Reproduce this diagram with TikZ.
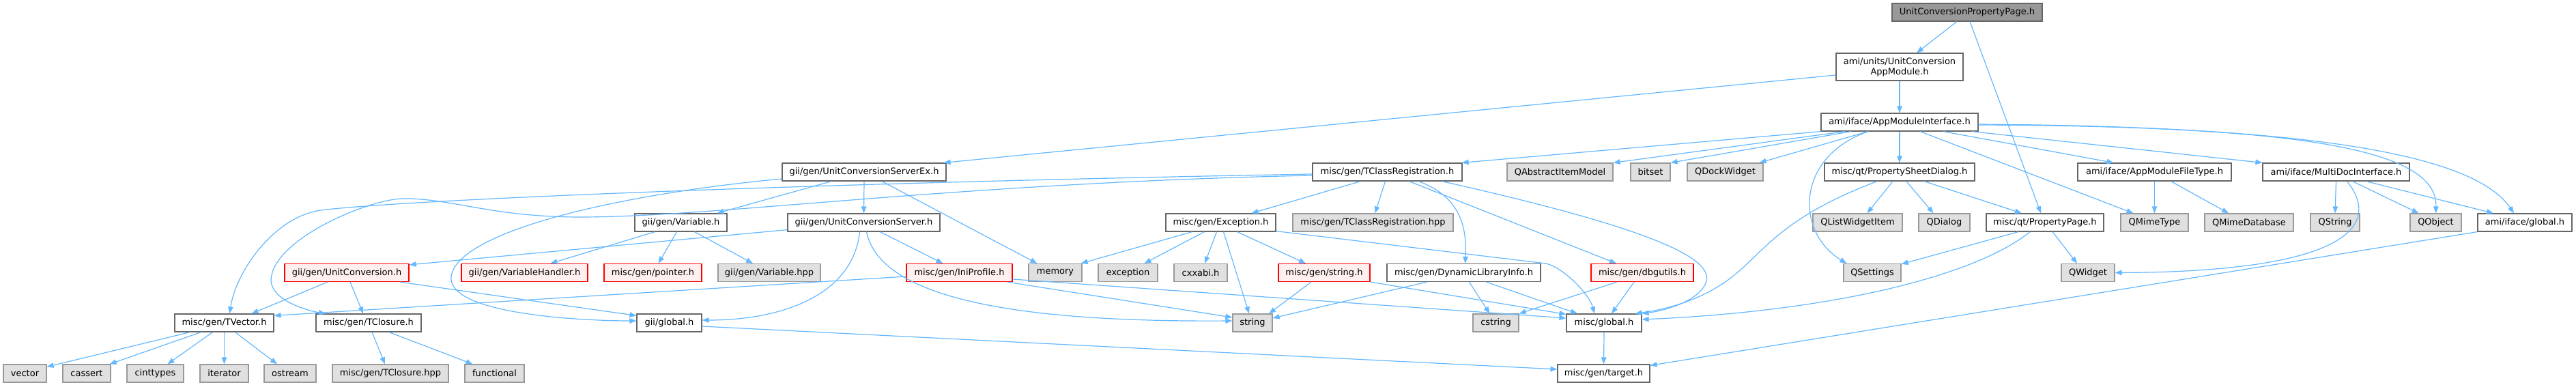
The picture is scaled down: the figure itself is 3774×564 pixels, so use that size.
\documentclass[tikz,border=0pt]{standalone}
\usepackage{fontspec}
\newfontfamily\dvs{DejaVu Sans}
\usetikzlibrary{arrows.meta}
\definecolor{edgec}{HTML}{63B8FF}
\definecolor{wdraw}{HTML}{666666}
\definecolor{gfill}{HTML}{E0E0E0}
\definecolor{gdraw}{HTML}{999999}
\definecolor{rfill}{HTML}{FFF0F0}
\definecolor{rdraw}{HTML}{FF0000}
\definecolor{rootfill}{HTML}{999999}
\tikzset{
  box/.style={rectangle, inner xsep=0pt, inner ysep=0pt, minimum height=26pt, line width=1.2pt,
    font=\dvs\fontsize{13pt}{15pt}\selectfont, align=center},
  wnode/.style={box, fill=white, draw=wdraw},
  gnode/.style={box, fill=gfill, draw=gdraw},
  rnode/.style={box, fill=rfill, draw=rdraw},
  rootnode/.style={box, fill=rootfill, draw=wdraw},
  edge/.style={draw=edgec, line width=1.2pt, -{Triangle[length=10pt,width=7.5pt]}},
}
\begin{document}
\begin{tikzpicture}[x=1pt,y=-1pt]
\useasboundingbox[fill=white] (0,0) rectangle (3774,564);
% row 1
\node[rootnode, minimum width=220pt] (root) at (2882,18) {UnitConversionPropertyPage.h};
% row 2
\node[wnode, minimum width=186pt, minimum height=40pt] (appmod) at (2783,98) {ami/units/UnitConversion\\AppModule.h};
% row 3
\node[wnode, minimum width=230pt] (ami) at (2783,179) {ami/iface/AppModuleInterface.h};
% row 4
\node[wnode, minimum width=240pt] (gucsx) at (1266,252) {gii/gen/UnitConversionServerEx.h};
\node[wnode, minimum width=219pt] (tcr) at (2032.5,252) {misc/gen/TClassRegistration.h};
\node[gnode, minimum width=155pt] (qaim) at (2285.5,252) {QAbstractItemModel};
\node[gnode, minimum width=58pt] (bitset) at (2418,252) {bitset};
\node[gnode, minimum width=111pt] (qdock) at (2527.5,252) {QDockWidget};
\node[wnode, minimum width=220pt] (psd) at (2783,252) {misc/qt/PropertySheetDialog.h};
\node[wnode, minimum width=225pt] (amft) at (3156.5,252) {ami/iface/AppModuleFileType.h};
\node[wnode, minimum width=215pt] (mdi) at (3422.5,252) {ami/iface/MultiDocInterface.h};
% row 5
\node[wnode, minimum width=135pt] (gvar) at (997.5,326) {gii/gen/Variable.h};
\node[wnode, minimum width=223pt] (gucs) at (1265.5,326) {gii/gen/UnitConversionServer.h};
\node[wnode, minimum width=161pt] (exc) at (1788.5,326) {misc/gen/Exception.h};
\node[gnode, minimum width=235pt] (tcrhpp) at (2011.5,326) {misc/gen/TClassRegistration.hpp};
\node[gnode, minimum width=131pt] (qlwi) at (2721.5,326) {QListWidgetItem};
\node[gnode, minimum width=75pt] (qdialog) at (2848.5,326) {QDialog};
\node[wnode, minimum width=172pt] (pp) at (2996,326) {misc/qt/PropertyPage.h};
\node[gnode, minimum width=99pt] (qmt) at (3156.5,326) {QMimeType};
\node[gnode, minimum width=130pt] (qmdb) at (3295,326) {QMimeDatabase};
\node[gnode, minimum width=72pt] (qstr) at (3421,326) {QString};
\node[gnode, minimum width=75pt] (qobj) at (3568.5,326) {QObject};
\node[wnode, minimum width=138pt] (aig) at (3699,326) {ami/iface/global.h};
% row 6
\node[rnode, minimum width=182pt] (guc) at (508,399.5) {gii/gen/UnitConversion.h};
\node[rnode, minimum width=185pt] (gvh) at (768.5,399.5) {gii/gen/VariableHandler.h};
\node[rnode, minimum width=143pt] (ptr) at (956.5,399.5) {misc/gen/pointer.h};
\node[gnode, minimum width=150pt] (gvhpp) at (1127,399.5) {gii/gen/Variable.hpp};
\node[rnode, minimum width=155pt] (ini) at (1405.5,399.5) {misc/gen/IniProfile.h};
\node[gnode, minimum width=78pt] (memory) at (1546,399.5) {memory};
\node[gnode, minimum width=87pt] (exception) at (1652.5,399.5) {exception};
\node[gnode, minimum width=78pt] (cxxabi) at (1759,399.5) {cxxabi.h};
\node[rnode, minimum width=134pt] (mstr) at (1940,399.5) {misc/gen/string.h};
\node[wnode, minimum width=225pt] (dli) at (2144.5,399.5) {misc/gen/DynamicLibraryInfo.h};
\node[rnode, minimum width=150pt] (dbg) at (2406,399.5) {misc/gen/dbgutils.h};
\node[gnode, minimum width=84pt] (qset) at (2743,399.5) {QSettings};
\node[gnode, minimum width=78pt] (qw) at (3059,399.5) {QWidget};
% row 7
\node[wnode, minimum width=145pt] (tvec) at (328.5,473) {misc/gen/TVector.h};
\node[wnode, minimum width=154pt] (tclo) at (540,473) {misc/gen/TClosure.h};
\node[wnode, minimum width=95pt] (ggl) at (980.5,473) {gii/global.h};
\node[gnode, minimum width=58pt] (string) at (1835,473) {string};
\node[gnode, minimum width=67pt] (cstring) at (2191.5,473) {cstring};
\node[wnode, minimum width=110pt] (mgl) at (2350,473) {misc/global.h};
% row 8
\node[gnode, minimum width=63pt] (vector) at (36.5,547) {vector};
\node[gnode, minimum width=70pt] (cassert) at (127,547) {cassert};
\node[gnode, minimum width=83pt] (cinttypes) at (227.5,547) {cinttypes};
\node[gnode, minimum width=71pt] (iterator) at (328.5,547) {iterator};
\node[gnode, minimum width=76pt] (ostream) at (425,547) {ostream};
\node[gnode, minimum width=170pt] (tclohpp) at (572,547) {misc/gen/TClosure.hpp};
\node[gnode, minimum width=87pt] (functional) at (724.5,547) {functional};
\node[wnode, minimum width=135pt] (target) at (2349.5,547) {misc/gen/target.h};

% ---- edges ----
\draw[edge] ([xshift=-15pt]root.south) -- ([xshift=25pt]appmod.north);
\draw[edge] ([xshift=4pt]root.south) -- ([xshift=-6pt]pp.north);
\draw[edge] (appmod.south) -- (ami.north);
\draw[edge] ([yshift=-12pt]appmod.west) -- ([xshift=-4pt]gucsx.north east);
\draw[edge] ([xshift=-115pt]ami.south) -- ([xshift=-1pt]tcr.north east);
\draw[edge] ([xshift=-80pt]ami.south) -- (qaim.north east);
\draw[edge] ([xshift=-71pt]ami.south) -- (bitset.north east);
\draw[edge] ([xshift=-46pt]ami.south) -- ([xshift=-6pt]qdock.north east);
\draw[edge] (ami.south) -- (psd.north);
\draw[edge] ([xshift=30pt]ami.south) -- ([xshift=-31pt]qmt.north);
\draw[edge] ([xshift=64pt]ami.south) -- ([xshift=-60pt]amft.north);
\draw[edge] ([xshift=106pt]ami.south) -- (mdi.north west);
\draw[edge] ([yshift=-4pt]ami.east) .. controls (3350,185) and (3572,215) .. (qobj.north);
\draw[edge] ([yshift=-3pt]ami.east) .. controls (3350,185) and (3620,220) .. ([xshift=-16pt]aig.north);
\draw[edge] ([xshift=-46pt]ami.south) .. controls (2630,230) and (2630,340) .. ([xshift=5pt]qset.north west);
% UnitConversionServerEx
\draw[edge] ([xshift=-48pt]gucsx.south) -- ([xshift=53pt]gvar.north);
\draw[edge] (gucsx.south) -- (gucs.north);
\draw[edge] ([xshift=26pt]gucsx.south) -- ([xshift=13pt]memory.north west);
\draw[edge] ([yshift=-10pt]gucsx.west) .. controls (900,285) and (670,340) .. (661,405)
   .. controls (655,460) and (850,470) .. ([yshift=3pt]ggl.west);
% TClassRegistration
\draw[edge] ([yshift=-3pt]tcr.west) .. controls (1200,268) and (600,292) .. (470,308)
   .. controls (400,318) and (345,400) .. ([xshift=8pt]tvec.north);
\draw[edge] ([yshift=-5pt]tcr.west) .. controls (1400,268) and (1050,318) .. (850,318)
   .. controls (720,318) and (660,290) .. (590,291)
   .. controls (540,292) and (400,350) .. (397,410)
   .. controls (397,440) and (450,455) .. ([xshift=-63pt]tclo.north);
\draw[edge] ([xshift=-39pt]tcr.south) -- ([xshift=45pt]exc.north);
\draw[edge] ([xshift=-3pt]tcr.south) -- ([xshift=3pt]tcrhpp.north);
\draw[edge] ([xshift=46pt]tcr.south) .. controls (2130,285) and (2150,320) .. ([xshift=2pt]dli.north);
\draw[edge] ([xshift=32pt]tcr.south) -- ([xshift=-38pt]dbg.north);
\draw[edge] ([xshift=80pt]tcr.south) .. controls (2400,330) and (2510,375) .. (2500,412)
   .. controls (2492,440) and (2440,455) .. (mgl.north east);
% UnitConversionServer
\draw[edge] ([yshift=3pt]gucs.south west) -- ([yshift=-2pt]guc.north east);
\draw[edge] ([xshift=-6pt]gucs.south) .. controls (1250,430) and (1150,469) .. ([yshift=4pt]ggl.east);
\draw[edge] ([xshift=4pt]gucs.south) .. controls (1290,440) and (1500,472) .. ([yshift=3pt]string.west);
\draw[edge] ([xshift=24pt]gucs.south) -- ([xshift=-24pt]ini.north);
% Variable.h
\draw[edge] ([xshift=-38pt]gvar.south) -- ([xshift=38pt]gvh.north);
\draw[edge] ([xshift=-6pt]gvar.south) -- ([xshift=8pt]ptr.north);
\draw[edge] ([xshift=20pt]gvar.south) -- ([xshift=-24pt]gvhpp.north);
% UnitConversion.h
\draw[edge] ([xshift=-28pt]guc.south) -- ([xshift=40pt]tvec.north);
\draw[edge] ([xshift=5pt]guc.south) -- ([xshift=-8pt]tclo.north);
\draw[edge] ([xshift=78pt]guc.south) -- ([yshift=-3pt]ggl.north west);
% IniProfile.h
\draw[edge] ([yshift=-5.5pt]ini.west) -- ([yshift=-3pt]tvec.north east);
\draw[edge] ([xshift=70pt]ini.south) -- ([yshift=8pt]string.west);
\draw[edge] ([yshift=-9.5pt]ini.east) -- ([yshift=7pt]mgl.west);
% TVector.h
\draw[edge] ([xshift=-50pt]tvec.south) -- ([yshift=-4pt]vector.north east);
\draw[edge] ([xshift=-34pt]tvec.south) -- ([xshift=-2pt]cassert.north east);
\draw[edge] ([xshift=-17pt]tvec.south) -- ([xshift=18pt]cinttypes.north);
\draw[edge] (tvec.south) -- (iterator.north);
\draw[edge] ([xshift=16pt]tvec.south) -- ([xshift=-19pt]ostream.north);
% TClosure.h
\draw[edge] ([xshift=5pt]tclo.south) -- ([xshift=-8pt]tclohpp.north);
\draw[edge] ([xshift=30pt]tclo.south) -- ([xshift=-32pt]functional.north);
% gii/global.h
\draw[edge] ([yshift=-5pt]ggl.east) -- ([yshift=6pt]target.west);
% Exception.h
\draw[edge] ([xshift=-42pt]exc.south) -- ([xshift=-2pt]memory.north east);
\draw[edge] ([xshift=-24pt]exc.south) -- ([xshift=24pt]exception.north);
\draw[edge] ([xshift=-6pt]exc.south) -- ([xshift=6pt]cxxabi.north);
\draw[edge] ([xshift=4pt]exc.south) -- ([xshift=-5pt]string.north);
\draw[edge] ([xshift=24pt]exc.south) -- ([xshift=-27pt]mstr.north);
\draw[edge] ([yshift=1pt]exc.south east) -- (2265,386) .. controls (2290,392) and (2328,430) .. ([xshift=-14pt]mgl.north);
% string.h
\draw[edge] ([xshift=-19pt]mstr.south) -- ([xshift=24pt]string.north);
\draw[edge] (mstr.south east) -- ([yshift=-1pt]mgl.north west);
% DynamicLibraryInfo.h
\draw[edge] ([xshift=-54pt]dli.south) -- ([yshift=7pt]string.east);
\draw[edge] ([xshift=8pt]dli.south) -- ([xshift=-9pt]cstring.north);
\draw[edge] ([xshift=33pt]dli.south) -- ([xshift=-39pt]mgl.north);
% dbgutils.h
\draw[edge] ([xshift=-37pt]dbg.south) -- (cstring.north east);
\draw[edge] ([xshift=-12pt]dbg.south) -- ([xshift=11pt]mgl.north);
% misc/global.h
\draw[edge] (mgl.south) -- (target.north);
% PropertySheetDialog.h
\draw[edge] ([xshift=-10pt]psd.south) -- ([xshift=14pt]qlwi.north);
\draw[edge] ([xshift=10pt]psd.south) -- ([xshift=-16pt]qdialog.north);
\draw[edge] ([xshift=36pt]psd.south) -- ([xshift=-34pt]pp.north);
\draw[edge] ([xshift=-33pt]psd.south) .. controls (2620,315) and (2590,360) .. (2548,397)
   .. controls (2505,435) and (2450,452) .. ([xshift=-10pt]mgl.north east);
% PropertyPage.h
\draw[edge] ([xshift=-39pt]pp.south) -- ([yshift=-1pt]qset.north east);
\draw[edge] ([xshift=11pt]pp.south) -- ([xshift=-16pt]qw.north);
\draw[edge] ([xshift=-22pt]pp.south) .. controls (2900,400) and (2700,455) .. ([yshift=5pt]mgl.east);
% AppModuleFileType.h
\draw[edge] (amft.south) -- (qmt.north);
\draw[edge] ([xshift=24pt]amft.south) -- ([xshift=-30pt]qmdb.north);
% MultiDocInterface.h
\draw[edge] (mdi.south) -- (qstr.north);
\draw[edge] ([xshift=24pt]mdi.south) -- ([xshift=-25pt]qobj.north);
\draw[edge] ([xshift=44pt]mdi.south) -- ([xshift=-46pt]aig.north);
\draw[edge] ([xshift=16pt]mdi.south) .. controls (3490,330) and (3440,398) .. (qw.east);
% ami/iface/global.h
\draw[edge] (aig.south west) -- ([yshift=-2pt]target.north east);
\end{tikzpicture}
\end{document}
